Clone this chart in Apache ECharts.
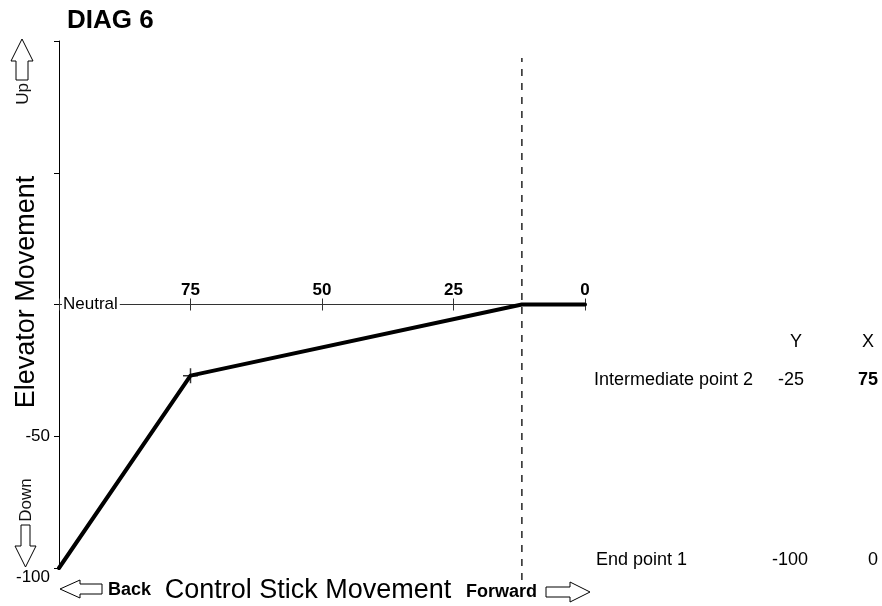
<!DOCTYPE html>
<html>
<head>
<meta charset="utf-8">
<script src="https://cdn.jsdelivr.net/npm/echarts@6/dist/echarts.min.js"></script>
<style>
html,body{margin:0;padding:0;background:#fff;}
#chart{width:882px;height:606px;}
</style>
</head>
<body>
<div id="chart"></div>
<script>
// ---- data ----
var chartTitle = 'DIAG 6';
var xAxisTitle = 'Control Stick Movement';
var yAxisTitle = 'Elevator Movement';
var curveX = [100, 75, 12, 0];
var curveY = [-100, -27, 0, 0];
var markerX = [75];
var markerY = [-27];
var dashedX = 12;
var xTickLabels = { 75: '75', 50: '50', 25: '25', 0: '0' };
var yTickLabels = { '-50': '-50', '-100': '-100' };
var neutralLabel = 'Neutral';
var tableHeaders = ['Y', 'X'];
var tableNames = ['Intermediate point 2', 'End point 1'];
var tableY = ['-25', '-100'];
var tableX = ['75', '0'];

var FONT = "'Liberation Sans', Arial, sans-serif";
var chart = echarts.init(document.getElementById('chart'), null, {renderer: 'canvas'});

function pairs(xs, ys) { return xs.map(function (x, i) { return [x, ys[i]]; }); }

var crossPath = 'path://M9,0h2v20h-2z M0,9h20v2h-20z';
var GL = 59, GR = 297, GT = 41, GB = 38;
var zeroY = GT + (606 - GT - GB) / 2; // pixel row of value 0 in main grid

var option = {
  backgroundColor: '#fff',
  animation: false,
  textStyle: { fontFamily: FONT },
  grid: [
    { left: GL, right: GR, top: GT, bottom: GB },          // main plot
    { left: GL, right: GR, top: 58, bottom: 26 },          // dashed guide
    { left: GL, right: GR, top: zeroY, bottom: GB }        // neutral x-axis (top edge = value 0)
  ],
  xAxis: [
    { gridIndex: 0, type: 'value', inverse: true, min: 0, max: 100, show: false },
    { gridIndex: 1, type: 'value', inverse: true, min: 0, max: 100, show: false },
    {
      gridIndex: 2, type: 'value', inverse: true, min: 0, max: 100, interval: 25,
      position: 'top',
      axisLine: { show: true, onZero: false, lineStyle: { color: '#333', width: 1 } },
      axisTick: { show: true, length: 6, lineStyle: { color: '#333', width: 1 } },
      splitLine: { show: false },
      axisLabel: {
        margin: 6, color: '#000', fontFamily: FONT, fontSize: 17, fontWeight: 'bold',
        formatter: function (v) { return xTickLabels[v] || ''; }
      }
    },
    {
      gridIndex: 2, type: 'value', inverse: true, min: 0, max: 100, interval: 25,
      position: 'top',
      axisLine: { show: false, onZero: false },
      axisTick: { show: true, inside: true, length: 6, lineStyle: { color: '#333', width: 1 } },
      splitLine: { show: false },
      axisLabel: { show: false }
    }
  ],
  yAxis: [
    {
      gridIndex: 0, type: 'value', min: -100, max: 100, interval: 50,
      axisLine: { show: true, onZero: false, lineStyle: { color: '#000', width: 1 } },
      axisTick: { show: true, length: 5, lineStyle: { color: '#000', width: 1 } },
      splitLine: { show: false },
      axisLabel: {
        margin: 9, color: '#000', fontFamily: FONT, fontSize: 17,
        formatter: function (v) {
          var s = yTickLabels[String(v)];
          if (!s) return '';
          return v === -100 ? '{lo|' + s + '}' : s;
        },
        rich: { lo: { padding: [19, 0, 0, 0], fontSize: 17, fontFamily: FONT, color: '#000' } }
      }
    },
    {
      gridIndex: 0, type: 'value', min: -100, max: 100, interval: 50, position: 'left',
      z: 5,
      axisLine: { show: false }, axisTick: { show: false }, splitLine: { show: false },
      axisLabel: {
        inside: true, margin: 3, color: '#000', fontFamily: FONT, fontSize: 17,
        backgroundColor: '#fff', padding: [1, 2, 1, 1],
        formatter: function (v) { return v === 0 ? neutralLabel : ''; }
      }
    },
    { gridIndex: 1, type: 'value', min: 0, max: 1, show: false },
    { gridIndex: 2, type: 'value', min: 0, max: 1, show: false }
  ],
  series: [
    {
      type: 'line', xAxisIndex: 0, yAxisIndex: 0,
      data: pairs(curveX, curveY),
      symbol: 'none', z: 3,
      lineStyle: { color: '#000', width: 4, cap: 'round', join: 'round' }
    },
    {
      type: 'scatter', xAxisIndex: 0, yAxisIndex: 0,
      data: pairs(markerX, markerY),
      symbol: crossPath, symbolSize: 15, z: 4,
      itemStyle: { color: '#000' }
    },
    {
      type: 'line', xAxisIndex: 1, yAxisIndex: 2,
      data: [[dashedX, 0], [dashedX, 1]],
      symbol: 'none', z: 1,
      lineStyle: { color: '#222', width: 1.5, type: [7, 7] }
    }
  ],
  graphic: [
    { type: 'text', left: 67, top: 8, style: { text: chartTitle, font: 'bold 26px ' + FONT, fill: '#000' } },
    { type: 'text', x: 27, y: 292, rotation: Math.PI / 2, style: { text: yAxisTitle, font: '27px ' + FONT, fill: '#000', align: 'center', verticalAlign: 'middle' } },
    { type: 'text', x: 308, y: 591, style: { text: xAxisTitle, font: '27px ' + FONT, fill: '#000', align: 'center', verticalAlign: 'middle' } },
    // Up arrow + label
    { type: 'polygon', shape: { points: [[22,39],[33,61],[28,61],[28,80],[16,80],[16,61],[11,61]] }, style: { fill: '#fff', stroke: '#000', lineWidth: 1 } },
    { type: 'text', x: 23, y: 94, rotation: Math.PI / 2, style: { text: 'Up', font: '17px ' + FONT, fill: '#111', align: 'center', verticalAlign: 'middle' } },
    // Down arrow + label
    { type: 'text', x: 26, y: 500, rotation: Math.PI / 2, style: { text: 'Down', font: '17px ' + FONT, fill: '#111', align: 'center', verticalAlign: 'middle' } },
    { type: 'polygon', shape: { points: [[21,525],[30,525],[30,546],[36,546],[25.5,567],[15,546],[21,546]] }, style: { fill: '#fff', stroke: '#000', lineWidth: 1 } },
    // Back arrow + label
    { type: 'polygon', shape: { points: [[60,589],[80,580],[80,584],[102,584],[102,594],[80,594],[80,598]] }, style: { fill: '#fff', stroke: '#000', lineWidth: 1 } },
    { type: 'text', x: 108, y: 590, style: { text: 'Back', font: 'bold 18px ' + FONT, fill: '#000', verticalAlign: 'middle' } },
    // Forward label + arrow
    { type: 'text', x: 466, y: 592, z: 10, style: { text: 'Forward', font: 'bold 18px ' + FONT, fill: '#000', verticalAlign: 'middle' } },
    { type: 'polygon', shape: { points: [[546,587],[570,587],[570,582],[590,592],[570,602],[570,597],[546,597]] }, style: { fill: '#fff', stroke: '#000', lineWidth: 1 } },
    // table
    { type: 'text', x: 796, y: 342, style: { text: tableHeaders[0], font: '18px ' + FONT, fill: '#000', align: 'center', verticalAlign: 'middle' } },
    { type: 'text', x: 868, y: 342, style: { text: tableHeaders[1], font: '18px ' + FONT, fill: '#000', align: 'center', verticalAlign: 'middle' } },
    { type: 'text', x: 594, y: 380, style: { text: tableNames[0], font: '18px ' + FONT, fill: '#000', verticalAlign: 'middle' } },
    { type: 'text', x: 791, y: 380, style: { text: tableY[0], font: '18px ' + FONT, fill: '#000', align: 'center', verticalAlign: 'middle' } },
    { type: 'text', x: 868, y: 380, style: { text: tableX[0], font: 'bold 18px ' + FONT, fill: '#000', align: 'center', verticalAlign: 'middle' } },
    { type: 'text', x: 596, y: 560, style: { text: tableNames[1], font: '18px ' + FONT, fill: '#000', verticalAlign: 'middle' } },
    { type: 'text', x: 790, y: 560, style: { text: tableY[1], font: '18px ' + FONT, fill: '#000', align: 'center', verticalAlign: 'middle' } },
    { type: 'text', x: 873, y: 560, style: { text: tableX[1], font: '18px ' + FONT, fill: '#000', align: 'center', verticalAlign: 'middle' } }
  ]
};
chart.setOption(option);
</script>
</body>
</html>
